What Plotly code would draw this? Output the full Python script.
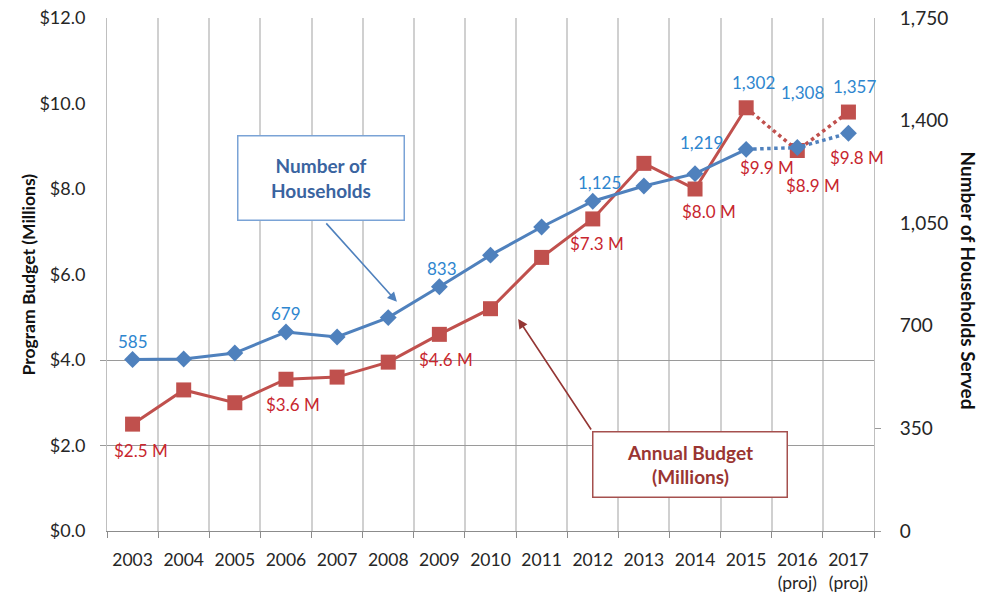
import plotly.graph_objects as go

# ---------------- data ----------------
years = list(range(2003, 2018))
year_labels = [str(y) for y in range(2003, 2016)] + ["2016<br>(proj)", "2017<br>(proj)"]
budget = [2.5, 3.3, 3.0, 3.55, 3.6, 3.95, 4.6, 5.2, 6.4, 7.3, 8.6, 8.0, 9.9, 8.9, 9.8]
households = [585, 587, 607, 679, 662, 728, 833, 941, 1037, 1125, 1177, 1219, 1302, 1308, 1357]
budget_label_years = [2003, 2006, 2009, 2012, 2014, 2015, 2016, 2017]
budget_label_text = ["$2.5 M", "$3.6 M", "$4.6 M", "$7.3 M", "$8.0 M", "$9.9 M", "$8.9 M", "$9.8 M"]
hh_label_years = [2003, 2006, 2009, 2012, 2014, 2015, 2016, 2017]
hh_label_text = ["585", "679", "833", "1,125", "1,219", "1,302", "1,308", "1,357"]
left_ticks = [0, 2, 4, 6, 8, 10, 12]
left_tick_text = ["$0.0", "$2.0", "$4.0", "$6.0", "$8.0", "$10.0", "$12.0"]
right_ticks = [0, 350, 700, 1050, 1400, 1750]

# label pixel offsets (style only)
budget_offsets = [(8, -26), (7, -25), (7, -25), (4, -25), (14, -22), (21, -60), (16, -35), (9, -45)]
hh_offsets = [(0, 18), (0, 18), (3, 18), (7, 19), (6, 31), (7, 67), (5, 55), (6, 47)]

RED = "#C0504D"
BLUE = "#4F81BD"
RED_TXT = "#C8262E"
BLUE_TXT = "#2E86CF"
FONT = "Lato"
n_actual = 13  # 2003-2015 actual, 2016-2017 projected

fig = go.Figure()

# Budget (left axis)
fig.add_trace(go.Scatter(x=years[:n_actual], y=budget[:n_actual], mode="lines",
                         line=dict(color=RED, width=3), yaxis="y", showlegend=False))
fig.add_trace(go.Scatter(x=years[n_actual - 1:], y=budget[n_actual - 1:], mode="lines",
                         line=dict(color=RED, width=3.5, dash="dot"), yaxis="y", showlegend=False))
fig.add_trace(go.Scatter(x=years, y=budget, mode="markers",
                         marker=dict(symbol="square", size=15, color=RED), yaxis="y", showlegend=False))

# Households (right axis)
fig.add_trace(go.Scatter(x=years[:n_actual], y=households[:n_actual], mode="lines",
                         line=dict(color=BLUE, width=3), yaxis="y2", showlegend=False))
fig.add_trace(go.Scatter(x=years[n_actual - 1:], y=households[n_actual - 1:], mode="lines",
                         line=dict(color=BLUE, width=3.5, dash="dot"), yaxis="y2", showlegend=False))
fig.add_trace(go.Scatter(x=years, y=households, mode="markers",
                         marker=dict(symbol="diamond", size=13, color=BLUE), yaxis="y2", showlegend=False))

annotations = []
for yr, txt, (dx, dy) in zip(budget_label_years, budget_label_text, budget_offsets):
    annotations.append(dict(x=yr, y=budget[years.index(yr)], xref="x", yref="y", text=txt,
                            showarrow=False, xshift=dx, yshift=dy,
                            font=dict(family=FONT, size=17, color=RED_TXT)))
for yr, txt, (dx, dy) in zip(hh_label_years, hh_label_text, hh_offsets):
    annotations.append(dict(x=yr, y=households[years.index(yr)], xref="x", yref="y2", text=txt,
                            showarrow=False, xshift=dx, yshift=dy,
                            font=dict(family=FONT, size=17, color=BLUE_TXT)))

# callout boxes
annotations.append(dict(x=0.279, y=0.688, xref="paper", yref="paper", showarrow=False,
                        xanchor="center", yanchor="middle",
                        text="<b>Number of<br>Households</b>", width=163, height=81,
                        bgcolor="white", bordercolor="#7AA3D6", borderwidth=1.5,
                        font=dict(family=FONT, size=19, color="#3A64A0")))
annotations.append(dict(x=0.760, y=0.1306, xref="paper", yref="paper", showarrow=False,
                        xanchor="center", yanchor="middle",
                        text="<b>Annual Budget<br>(Millions)</b>", width=191, height=62,
                        bgcolor="white", bordercolor="#A5504E", borderwidth=1.5,
                        font=dict(family=FONT, size=19, color="#9A3532")))
# arrows
annotations.append(dict(x=2008.17, y=5.36, xref="x", yref="y", text="", showarrow=True,
                        ax=-72, ay=-80, arrowhead=2, arrowsize=1.2, arrowwidth=1.6,
                        arrowcolor="#4F81BD"))
annotations.append(dict(x=2010.54, y=4.96, xref="x", yref="y", text="", showarrow=True,
                        ax=74, ay=112, arrowhead=2, arrowsize=1.2, arrowwidth=1.6,
                        arrowcolor="#943634"))
# axis titles
annotations.append(dict(x=0, y=0.5, xref="paper", yref="paper", showarrow=False,
                        text="<b>Program Budget (Millions)</b>", textangle=-90,
                        xanchor="center", yanchor="middle", xshift=-79, yshift=0,
                        font=dict(family=FONT, size=17.5, color="#111")))
annotations.append(dict(x=1.0, y=0.5, xref="paper", yref="paper", showarrow=False,
                        text="<b>Number of Households Served</b>", textangle=90,
                        xanchor="center", yanchor="middle", xshift=94, yshift=-6,
                        font=dict(family=FONT, size=19, color="#111")))

fig.update_layout(
    width=992, height=596,
    margin=dict(l=107, r=118, t=18, b=65, autoexpand=False),
    paper_bgcolor="white", plot_bgcolor="white",
    font=dict(family=FONT, size=18, color="#262626"),
    showlegend=False,
    xaxis=dict(range=[2002.5, 2017.5], tickmode="array", tickvals=years, ticktext=year_labels,
               showgrid=False, ticks="", showline=True, linecolor="#8C8C8C", linewidth=1,
               ticklabelstandoff=13, zeroline=False, tickfont=dict(size=17.5), automargin=False,
               minor=dict(tickmode="linear", tick0=2002.5, dtick=1, showgrid=True,
                          gridcolor="#D0D0D0", gridwidth=1.8, ticks="outside", ticklen=6,
                          tickcolor="#8C8C8C")),
    yaxis=dict(range=[0, 12], tickmode="array", tickvals=left_ticks, ticktext=left_tick_text,
               showgrid=False, zeroline=False, showline=True, linecolor="#BFBFBF",
               ticks="", ticklabelstandoff=17, tickfont=dict(size=18), automargin=False,
               minor=dict(tickmode="array", tickvals=[2, 4], showgrid=True, gridcolor="#9A9A9A",
                          gridwidth=1, ticks="outside", ticklen=6, tickcolor="#9A9A9A")),
    yaxis2=dict(range=[0, 1750], overlaying="y", side="right", tickmode="array",
                tickvals=right_ticks, tickformat=",", showgrid=False, zeroline=False,
                showline=True, linecolor="#BFBFBF", ticks="", ticklabelstandoff=21,
                tickfont=dict(size=19), automargin=False,
                minor=dict(tickmode="array", tickvals=[0, 350], ticks="outside", ticklen=6,
                           tickcolor="#9A9A9A")),
    annotations=annotations,
)

fig.write_html("out.html", config={"displayModeBar": False},
               post_script="document.body.style.margin='0';")
